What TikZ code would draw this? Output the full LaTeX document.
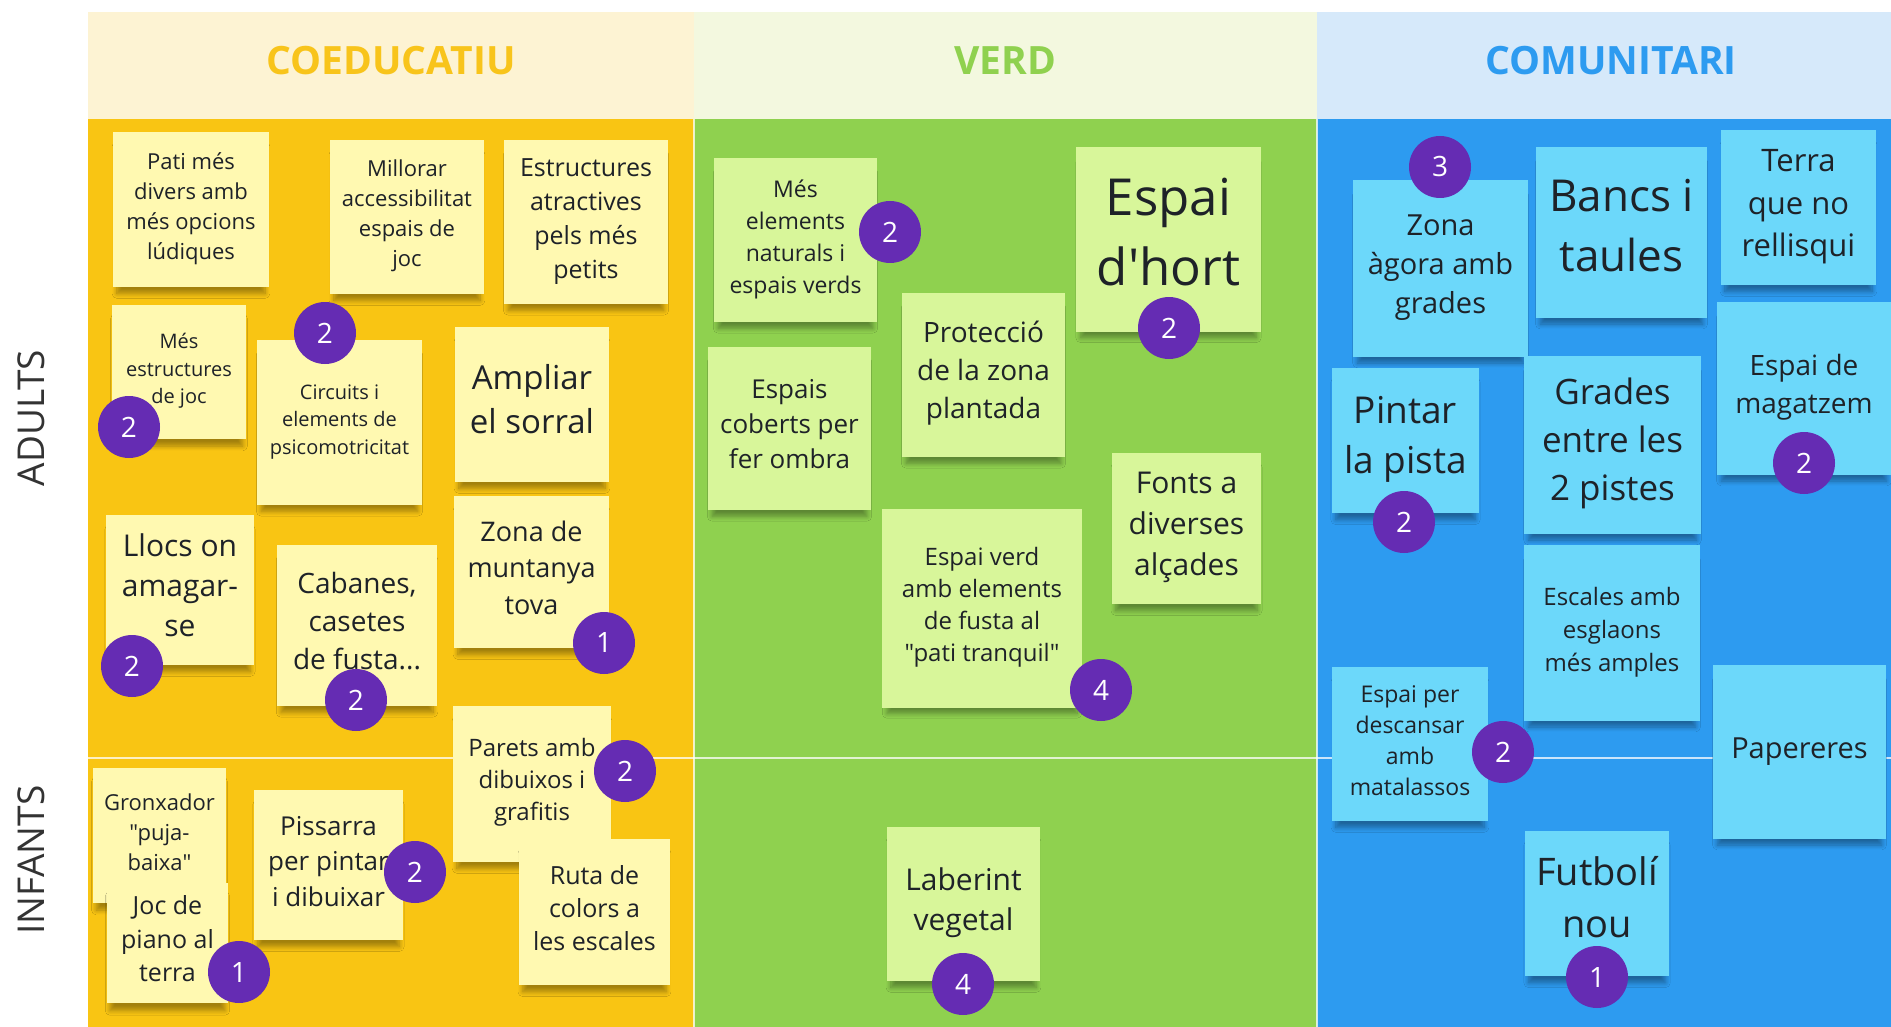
\documentclass[tikz,border=0pt]{standalone}
\usepackage{fontspec}
\setmainfont{Open Sans}[Ligatures=TeXOff]
\usetikzlibrary{shadows.blur}
\definecolor{yhead}{HTML}{FDF3D3}
\definecolor{ghead}{HTML}{F3F8DF}
\definecolor{bhead}{HTML}{D6E9FA}
\definecolor{ybody}{HTML}{F9C513}
\definecolor{gbody}{HTML}{8FD14F}
\definecolor{bbody}{HTML}{2D9BF0}
\definecolor{ytitle}{HTML}{F8C41B}
\definecolor{gtitle}{HTML}{8FD14F}
\definecolor{btitle}{HTML}{2D9BF0}
\definecolor{ystk}{HTML}{FFF9B1}
\definecolor{gstk}{HTML}{D8F69A}
\definecolor{bstk}{HTML}{6CD8FA}
\definecolor{vio}{HTML}{652CB3}
\definecolor{txt}{HTML}{1E2228}
\definecolor{lab}{HTML}{333333}
\newcommand\fsz[2]{\fontsize{#1}{#2}\selectfont}
\newcommand\stxt[1]{\raisebox{0.06em}[\height][\depth]{\begin{tabular}{@{}c@{}}#1\end{tabular}}}
\begin{document}
\begin{tikzpicture}[x=1pt,y=-1pt,
  stk/.style={draw=none, inner sep=0pt, align=center, text=txt,
    blur shadow={shadow xshift=0pt, shadow yshift=-11pt, shadow scale=0.95, shadow blur steps=8, shadow blur radius=5pt, shadow opacity=35}},
  ys/.style={stk, fill=ystk},
  gs/.style={stk, fill=gstk},
  bs/.style={stk, fill=bstk},
  sz/.style 2 args={minimum width=#1pt, minimum height=#2pt},
  vote/.style={circle, fill=vio, text=white, inner sep=0pt, minimum size=62pt, font=\fsz{28}{34}},
  coltitle/.style={font=\bfseries\fsz{39}{50}},
  rowlab/.style={rotate=90, text=lab, font=\fsz{37}{48}},
  divl/.style={draw=white, draw opacity=0.75, line width=1.5pt}]
\useasboundingbox (0,0) rectangle (1891,1027);
\fill[white] (0,0) rectangle (1891,1027);
% headers
\fill[yhead] (88,12) rectangle (694,119);
\fill[ghead] (694,12) rectangle (1317,119);
\fill[bhead] (1317,12) rectangle (1891,119);
% bodies
\fill[ybody] (88,119) rectangle (694,1027);
\fill[gbody] (694,119) rectangle (1317,1027);
\fill[bbody] (1317,119) rectangle (1891,1027);
% grid lines
\draw[divl] (88,758) -- (1891,758);
\draw[divl] (694,119) -- (694,1027);
\draw[divl] (1317,119) -- (1317,1027);
% titles
\node[coltitle, text=ytitle] (tcoed) at (391,61) {COEDUCATIU};
\node[coltitle, text=gtitle] (tverd) at (1005,61) {VERD};
\node[coltitle, text=btitle] (tcom) at (1611,61) {COMUNITARI};
\node[rowlab] (ladults) at (31,418) {ADULTS};
\node[rowlab] (linfants) at (31,860) {INFANTS};
% yellow stickies
\node[ys, sz={156}{155}, font=\fsz{22}{30}] (s1) at (191,209.5) {\stxt{Pati més\\divers amb\\més opcions\\lúdiques}};
\node[ys, sz={154}{154}, font=\fsz{22}{30}] (s2) at (407,217) {\stxt{Millorar\\accessibilitat\\espais de\\joc}};
\node[ys, sz={164}{164}, font=\fsz{25}{34}] (s3) at (586,222) {\stxt{Estructures\\atractives\\pels més\\petits}};
\node[ys, sz={134}{134}, font=\fsz{20}{27.5}] (s4) at (179,372) {\stxt{Més\\estructures\\de joc}};
\node[ys, sz={165}{165}, font=\fsz{20}{27.5}] (s5) at (339.5,422.5) {\stxt{Circuits i\\elements de\\psicomotricitat}};
\node[ys, sz={154}{155}, font=\fsz{33}{44}] (s6) at (532,404.5) {\stxt{Ampliar\\el sorral}};
\node[ys, sz={155}{152}, font=\fsz{27}{36.5}] (s7) at (531.5,572) {\stxt{Zona de\\muntanya\\tova}};
\node[ys, sz={148}{150}, font=\fsz{30}{40}] (s8) at (180,590) {\stxt{Llocs on\\amagar-\\se}};
\node[ys, sz={160}{161}, font=\fsz{28}{38}] (s9) at (357,625.5) {\stxt{Cabanes,\\casetes\\de fusta...}};
\node[ys, sz={158}{156}, font=\fsz{24}{32}] (s10) at (532,784) {\stxt{Parets amb\\dibuixos i\\grafitis}};
\node[ys, sz={133}{135}, font=\fsz{22}{30}] (s11) at (159.5,835.5) {\stxt{Gronxador\\"puja-\\baixa"}};
\node[ys, sz={121}{120}, font=\fsz{25}{33.5}] (s12) at (167.5,943) {\stxt{Joc de\\piano al\\terra}};
\node[ys, sz={149}{150}, font=\fsz{26}{35.5}] (s13) at (328.5,865) {\stxt{Pissarra\\per pintar\\i dibuixar}};
\node[ys, sz={151}{146}, font=\fsz{25}{33}] (s14) at (594.5,912) {\stxt{Ruta de\\colors a\\les escales}};
% green stickies
\node[gs, sz={163}{164}, font=\fsz{23}{32}] (g1) at (795.5,240) {\stxt{Més\\elements\\naturals i\\espais verds}};
\node[gs, sz={185}{185}, font=\fsz{51}{70}] (g2) at (1168.5,239.5) {\stxt{Espai\\d'hort}};
\node[gs, sz={163}{164}, font=\fsz{28}{38}] (g3) at (983.5,375) {\stxt{Protecció\\de la zona\\plantada}};
\node[gs, sz={163}{163}, font=\fsz{26}{35}] (g4) at (789.5,428.5) {\stxt{Espais\\coberts per\\fer ombra}};
\node[gs, sz={149}{151}, font=\fsz{30}{41}] (g5) at (1186.5,528.5) {\stxt{Fonts a\\diverses\\alçades}};
\node[gs, sz={200}{199}, font=\fsz{24}{32}] (g6) at (982,608.5) {\stxt{Espai verd\\amb elements\\de fusta al\\"pati tranquil"}};
\node[gs, sz={153}{154}, font=\fsz{30}{40}] (g7) at (963.5,904) {\stxt{Laberint\\vegetal}};
% blue stickies
\node[bs, sz={175}{177}, font=\fsz{29}{39}] (b1) at (1440.5,268.5) {\stxt{Zona\\àgora amb\\grades}};
\node[bs, sz={171}{171}, font=\fsz{44}{60}] (b2) at (1621.5,232.5) {\stxt{Bancs i\\taules}};
\node[bs, sz={155}{155}, font=\fsz{31}{42.5}] (b3) at (1798.5,207.5) {\stxt{Terra\\que no\\rellisqui}};
\node[bs, sz={174}{173}, font=\fsz{28}{38}] (b6) at (1804,388.5) {\stxt{Espai de\\magatzem}};
\node[bs, sz={147}{145}, font=\fsz{37}{50}] (b4) at (1405.5,440.5) {\stxt{Pintar\\la pista}};
\node[bs, sz={177}{178}, font=\fsz{35}{48}] (b5) at (1612.5,445) {\stxt{Grades\\entre les\\2 pistes}};
\node[bs, sz={176}{176}, font=\fsz{24}{33}] (b7) at (1612,633) {\stxt{Escales amb\\esglaons\\més amples}};
\node[bs, sz={156}{154}, font=\fsz{23}{31}] (b8) at (1410,744) {\stxt{Espai per\\descansar\\amb\\matalassos}};
\node[bs, sz={173}{174}, font=\fsz{29}{39}] (b9) at (1799.5,752) {\stxt{Papereres}};
\node[bs, sz={144}{145}, font=\fsz{38}{52}] (b10) at (1597,903.5) {\stxt{Futbolí\\nou}};
% votes
\node[vote] (c1) at (129,427) {2};
\node[vote] (c2) at (325,333) {2};
\node[vote] (c3) at (132,666) {2};
\node[vote] (c4) at (356,700) {2};
\node[vote] (c5) at (604,643) {1};
\node[vote] (c6) at (625,771) {2};
\node[vote] (c7) at (239,972) {1};
\node[vote] (c8) at (415,872) {2};
\node[vote] (c9) at (890,232) {2};
\node[vote] (c10) at (1169,328) {2};
\node[vote] (c11) at (1101,690) {4};
\node[vote] (c12) at (963,984) {4};
\node[vote] (c13) at (1440,167) {3};
\node[vote] (c14) at (1404,522) {2};
\node[vote] (c15) at (1804,463) {2};
\node[vote] (c16) at (1503,752) {2};
\node[vote] (c17) at (1597,977) {1};
\end{tikzpicture}
\end{document}
